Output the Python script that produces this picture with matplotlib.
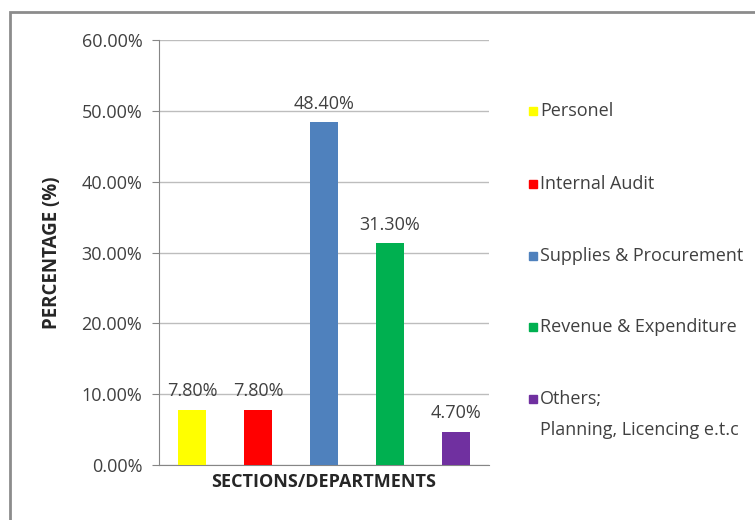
import matplotlib.pyplot as plt
from matplotlib.patches import Rectangle
from matplotlib.ticker import FuncFormatter

# Share of responses by section / department
sections = ["Personel", "Internal Audit", "Supplies & Procurement",
            "Revenue & Expenditure", "Others;\nPlanning, Licencing e.t.c"]
percentages = [7.80, 7.80, 48.40, 31.30, 4.70]
colors = ["#FFFF00", "#FF0000", "#4F81BD", "#00B050", "#7030A0"]
y_ticks = [0, 10, 20, 30, 40, 50, 60]

plt.rcParams['font.family'] = ['Open Sans', 'DejaVu Sans']
FS = 13

fig = plt.figure(figsize=(7.55, 5.2), dpi=100)
ax = fig.add_axes([159 / 755, 55 / 520, 330 / 755, 425 / 520])

x = range(len(sections))
bars = ax.bar(x, percentages, width=0.41, color=colors, zorder=3)

for bar, val in zip(bars, percentages):
    ax.text(bar.get_x() + bar.get_width() / 2, val + 2.6, f"{val:.2f}%",
            ha='center', va='center', fontsize=FS, color='#404040', zorder=4)

ax.set_xlim(-0.5, len(sections) - 0.5)
ax.set_ylim(0, 60)
ax.set_yticks(y_ticks)
ax.yaxis.set_major_formatter(FuncFormatter(lambda v, p: f"{v:.2f}%"))
ax.set_xticks([])
ax.tick_params(axis='y', length=5, color='#868686', labelsize=FS,
               labelcolor='#404040', pad=7)
ax.grid(axis='y', color='#bdbdbd', linewidth=1, zorder=0)

for side in ['top', 'right']:
    ax.spines[side].set_visible(False)
ax.spines['left'].set_color('#868686')
ax.spines['bottom'].set_color('#868686')

ax.set_ylabel("PERCENTAGE (%)", fontsize=13.5, fontweight='bold',
              color='#262626', labelpad=14)
ax.set_xlabel("SECTIONS/DEPARTMENTS", fontsize=13, fontweight='bold',
              color='#262626', labelpad=6)

# Legend drawn to the right of the plot, one row per section
legend_rows = [111, 184, 256, 327, 399]
for name, col, row in zip(sections, colors, legend_rows):
    yf = 1 - row / 520
    fig.add_artist(Rectangle((529 / 755, yf - 4 / 520), 8 / 755, 8 / 520,
                             transform=fig.transFigure, color=col))
    for i, line in enumerate(name.split('\n')):
        fig.text(540 / 755, yf - 31 * i / 520, line, ha='left', va='center',
                 fontsize=FS, color='#404040')

# Chart area border
fig.add_artist(Rectangle((10 / 755, -10 / 520), 760 / 755, 518 / 520,
                         transform=fig.transFigure, fill=False,
                         edgecolor='#8c8c8c', linewidth=2))

fig.savefig("out.png", dpi=100)
